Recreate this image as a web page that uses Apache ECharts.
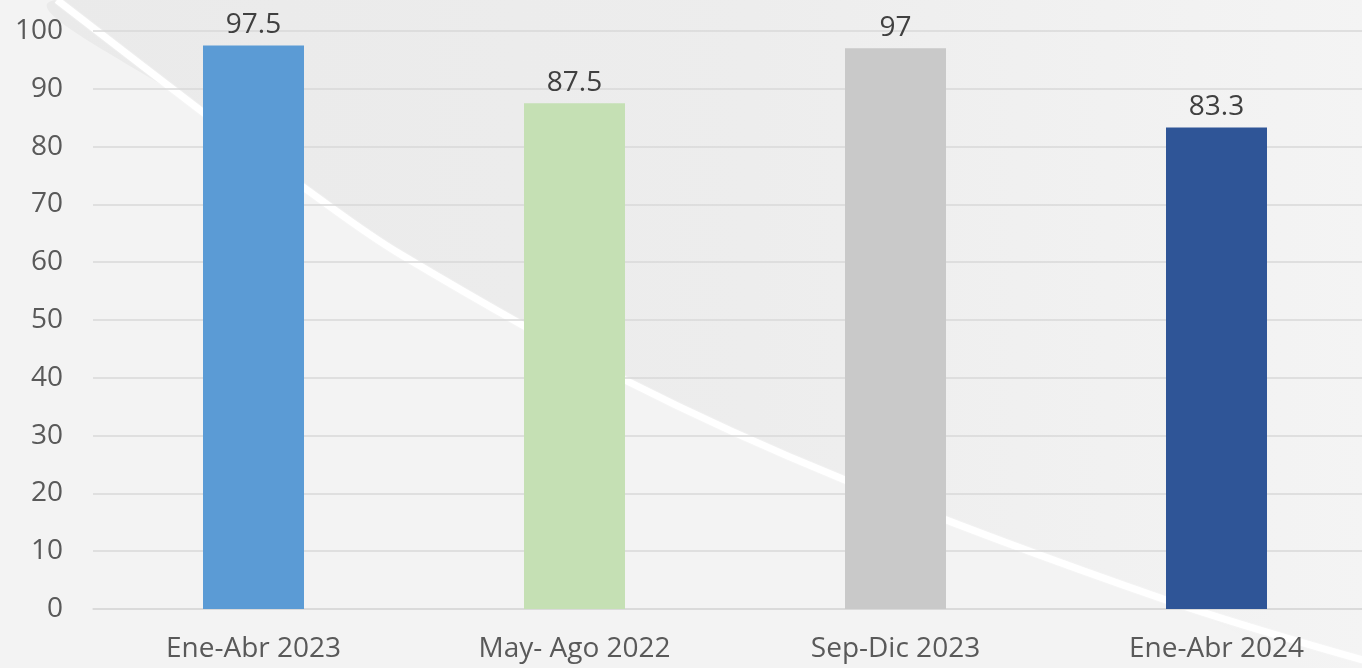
<!DOCTYPE html>
<html>
<head>
<meta charset="utf-8">
<script src="https://cdn.jsdelivr.net/npm/echarts@6/dist/echarts.min.js"></script>
<style>
  html, body { margin: 0; padding: 0; background: #f3f3f3; overflow: hidden; }
  /* plot runs past the right edge, as in the cropped original */
  #chart { width: 1377px; height: 668px; }
</style>
</head>
<body>
<div id="chart"></div>
<script>
const categories = ["Ene-Abr 2023", "May- Ago 2022", "Sep-Dic 2023", "Ene-Abr 2024"];
const values = [97.5, 87.5, 97, 83.3];
const barColors = ["#5b9bd5", "#c5e0b4", "#c9c9c9", "#2f5597"];

// white swoosh across the background
const curve = [[57, 0], [200, 110], [310, 192], [400, 254], [625, 380], [845, 480], [1166, 600], [1377, 664]];

const chart = echarts.init(document.getElementById("chart"));

const option = {
    backgroundColor: "#f3f3f3",
    animation: false,
    graphic: [
        {
            type: "polygon",
            z: -10,
            silent: true,
            shape: { points: [[1377, 0]].concat(curve), smooth: 0.35 },
            style: {
                fill: new echarts.graphic.LinearGradient(0, 0, 1, 0, [
                    { offset: 0, color: "#eaeaea" },
                    { offset: 0.5, color: "#ededed" },
                    { offset: 1, color: "#f5f5f5" }
                ])
            }
        },
        {
            type: "polyline",
            z: -9,
            silent: true,
            shape: { points: curve, smooth: 0.35 },
            style: { stroke: "#ffffff", lineWidth: 7, fill: null, shadowBlur: 2, shadowColor: "rgba(255,255,255,0.8)" }
        }
    ],
    grid: { left: 93, top: 31, right: 0, bottom: 59 },
    xAxis: {
        type: "category",
        data: categories,
        axisLine: { lineStyle: { color: "#d9d9d9", width: 1.5 } },
        axisTick: { show: false },
        axisLabel: { color: "#595959", fontSize: 28, fontFamily: "Open Sans", margin: 26 }
    },
    yAxis: {
        type: "value",
        min: 0,
        max: 100,
        interval: 10,
        axisLine: { show: false },
        axisTick: { show: false },
        splitLine: { lineStyle: { color: "#d9d9d9", width: 1.5 } },
        axisLabel: { color: "#595959", fontSize: 28, fontFamily: "Open Sans", margin: 30 }
    },
    series: [{
        type: "bar",
        barWidth: 101,
        data: values.map((v, i) => ({ value: v, itemStyle: { color: barColors[i] } })),
        label: {
            show: true,
            position: "top",
            distance: 6,
            color: "#404040",
            fontSize: 28,
            fontFamily: "Open Sans"
        }
    }]
};

chart.setOption(option);
</script>
</body>
</html>
